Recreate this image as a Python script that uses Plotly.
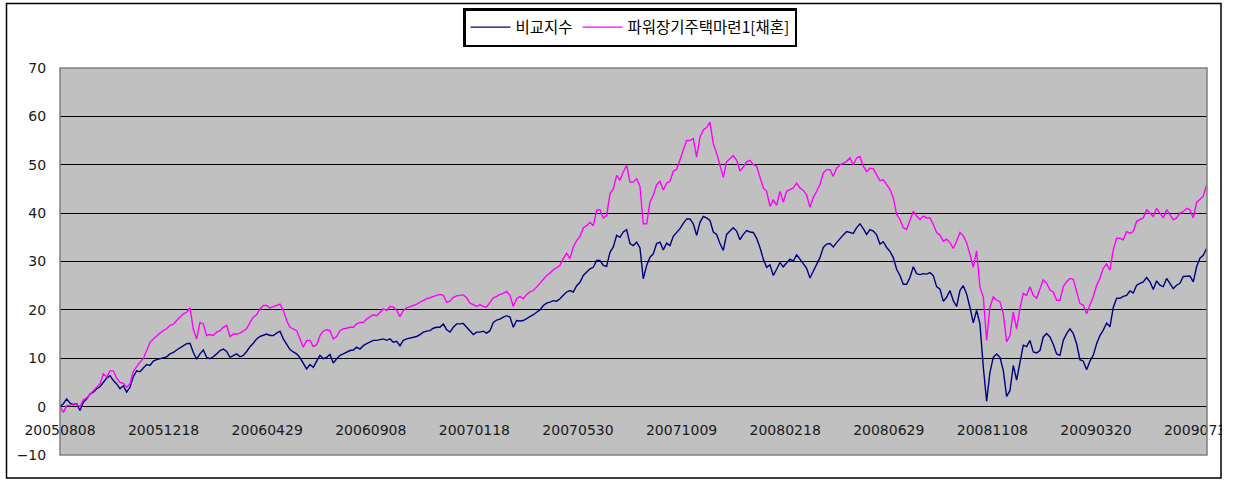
import pandas as pd
import plotly.graph_objects as go

# ---- data ----
series_names = ["비교지수", "파워장기주택마련1[채혼]"]
start_date = "2005-08-08"
end_date = "2009-08-08"

tick_labels = ["20050808", "20051218", "20060429", "20060908", "20070118", "20070530",
               "20071009", "20080218", "20080629", "20081108", "20090320", "20090730"]

benchmark = [
    0.0,
    0.6, 1.6, 0.7, 0.4, 0.6, -0.8, 0.9, 1.6, 2.6, 3.0,
    3.7, 4.1, 5.0, 5.9, 6.4, 5.4, 4.7, 3.7, 4.3, 3.0,
    4.0, 6.2, 7.4, 7.2, 8.0, 8.7, 8.5, 9.4, 9.7, 9.9,
    10.1, 10.3, 10.9, 11.2, 11.7, 12.1, 12.6, 13.0, 13.1, 11.2,
    9.8, 10.9, 11.7, 10.2, 9.9, 10.3, 10.9, 11.6, 11.9, 11.4,
    10.2, 10.6, 10.9, 10.3, 10.6, 11.4, 12.4, 13.1, 14.0, 14.5,
    14.7, 15.0, 14.7, 14.7, 15.2, 15.6, 14.0, 13.0, 11.8,
    11.3, 10.9, 10.1, 8.8, 7.8, 8.7, 8.1, 9.4, 10.6, 9.9,
    10.2, 10.8, 9.0, 9.9, 10.6, 10.9, 11.2, 11.6, 11.7, 12.3,
    11.9, 12.6, 13.0, 13.3, 13.7, 13.7, 13.8, 14.0, 13.7, 14.0,
    13.3, 13.5, 12.6, 13.7, 14.0, 14.2, 14.3, 14.5, 14.9, 15.4,
    15.6, 15.7, 16.2, 16.4, 16.4, 17.1, 15.9, 15.4, 16.4, 17.1,
    17.1, 17.2, 16.4, 15.7, 14.9, 15.4, 15.4, 15.6, 15.2, 15.7,
    17.4, 17.9, 18.1, 18.5, 18.8, 18.5, 16.4, 17.8, 17.7,
    17.8, 18.2, 18.5, 19.0, 19.5, 20.0, 20.9, 21.4, 21.6, 21.9,
    21.8, 22.3, 23.0, 23.7, 24.0, 23.7, 25.0, 25.7, 27.1, 27.8,
    28.5, 28.8, 30.2, 30.2, 29.2, 29.0, 31.9, 33.0, 35.4, 35.0,
    36.1, 36.6, 33.7, 33.3, 34.0, 32.8, 26.4, 29.2, 30.9, 31.6,
    33.7, 34.0, 32.4, 33.8, 33.3, 35.2, 35.9, 36.8, 37.9, 38.8,
    38.8, 37.8, 35.4, 38.1, 39.3, 39.0, 38.5, 36.1, 35.6, 33.7,
    32.3, 35.6, 36.3, 37.0, 36.3, 34.5, 35.6, 36.4, 36.1,
    36.0, 34.8, 32.9, 30.5, 28.8, 29.3, 27.1, 28.4, 29.8, 28.9,
    29.8, 30.5, 30.1, 31.4, 30.5, 29.5, 28.6, 26.6, 28.1, 29.5,
    30.8, 32.9, 33.6, 33.7, 33.0, 33.9, 34.8, 35.5, 36.2, 36.0,
    35.8, 37.0, 37.8, 36.8, 35.6, 36.6, 36.3, 35.5, 33.6, 34.1,
    32.9, 32.1, 30.8, 28.4, 27.1, 25.3, 25.3, 26.7, 28.9, 27.5,
    27.3, 27.5, 27.4, 27.7, 27.1, 24.8, 24.3, 21.8, 22.6, 24.0,
    21.9, 20.7, 24.0, 25.0, 23.3, 20.5, 17.3, 19.9, 17.1,
    8.2, 1.1, 7.1, 10.2, 10.9, 10.2, 7.5, 2.1, 3.3, 8.5,
    5.5, 8.9, 12.7, 12.4, 13.7, 11.3, 11.1, 11.6, 14.4, 15.1,
    14.4, 12.9, 10.9, 10.6, 13.7, 15.1, 16.1, 15.1, 13.0, 9.7,
    9.4, 7.6, 9.4, 10.6, 13.0, 14.7, 15.8, 17.3, 16.5, 20.5,
    22.4, 22.4, 22.8, 23.0, 23.9, 23.5, 25.1, 25.5, 25.8, 26.7,
    25.8, 24.2, 26.0, 25.1, 24.8, 26.5, 25.5, 24.4, 25.1, 25.5,
    26.9, 26.9, 27.0, 25.8, 28.9, 30.7, 31.3, 32.7,
]

fund = [
    0.0,
    -1.2, 0.2, 0.2, 0.6, 0.4, 0.0, 1.4, 1.8, 2.6, 3.3,
    4.0, 4.7, 6.8, 6.1, 7.4, 7.4, 5.9, 5.0, 4.8, 4.0,
    4.7, 7.3, 8.3, 9.2, 9.9, 11.6, 13.3, 14.0, 14.7, 15.2,
    15.7, 16.1, 16.8, 17.0, 17.8, 18.5, 19.2, 19.5, 20.4, 16.0,
    14.0, 17.4, 17.1, 14.7, 14.9, 14.7, 15.4, 15.7, 16.4, 16.8,
    14.5, 15.0, 15.0, 15.2, 15.6, 16.1, 17.4, 18.5, 19.0, 20.2,
    20.9, 20.9, 20.4, 20.7, 20.9, 21.2, 19.9, 17.8, 16.4,
    16.1, 15.7, 14.0, 12.3, 13.7, 13.7, 12.4, 12.8, 14.7, 15.6,
    15.9, 15.7, 14.0, 14.5, 15.7, 16.1, 16.2, 16.4, 16.4, 17.1,
    17.4, 17.4, 18.1, 18.6, 19.0, 18.8, 19.5, 20.2, 19.9, 20.7,
    20.6, 19.9, 18.6, 19.9, 20.4, 20.6, 20.9, 21.2, 21.6, 21.9,
    22.3, 22.5, 22.8, 23.0, 23.2, 23.0, 21.6, 21.8, 22.6, 22.9,
    23.0, 23.1, 22.5, 21.4, 21.1, 20.7, 21.1, 20.7, 20.6, 21.6,
    22.5, 22.8, 23.2, 23.4, 23.8, 23.0, 20.7, 22.3, 22.8,
    22.3, 23.2, 23.7, 24.0, 24.7, 25.5, 26.4, 27.1, 27.6, 28.3,
    28.7, 29.2, 30.6, 31.7, 30.6, 33.0, 34.3, 35.2, 37.0, 37.4,
    38.1, 37.4, 40.6, 40.7, 39.0, 39.5, 44.0, 45.0, 47.8, 46.8,
    48.5, 49.9, 46.4, 46.4, 47.1, 45.5, 37.8, 37.8, 42.3, 43.7,
    45.9, 46.6, 44.8, 46.2, 46.6, 48.7, 49.0, 50.9, 53.1, 55.0,
    55.0, 55.4, 51.6, 55.7, 57.2, 57.7, 58.8, 54.3, 52.4, 49.9,
    47.4, 50.6, 51.2, 51.9, 50.9, 48.7, 49.5, 50.6, 50.9,
    50.0, 49.7, 47.3, 45.2, 44.5, 41.4, 42.8, 41.6, 44.5, 42.3,
    44.5, 44.9, 45.2, 46.2, 45.2, 44.7, 43.8, 41.2, 43.2, 44.5,
    45.9, 48.3, 49.0, 49.0, 47.6, 49.3, 50.0, 50.3, 50.7, 51.4,
    50.0, 51.4, 51.7, 49.7, 48.6, 49.3, 49.2, 47.9, 46.7, 46.9,
    45.9, 44.9, 43.2, 39.7, 38.7, 37.0, 36.6, 38.4, 40.4, 39.4,
    38.7, 39.4, 39.0, 39.0, 37.7, 36.0, 35.5, 34.2, 34.6, 33.9,
    32.7, 34.2, 36.0, 35.3, 33.9, 31.5, 28.8, 32.2, 24.7,
    22.7, 13.7, 20.6, 22.7, 22.0, 21.7, 19.2, 13.4, 14.7, 19.6,
    16.1, 20.3, 23.4, 23.0, 24.8, 23.0, 22.4, 24.1, 26.2, 25.5,
    24.1, 23.7, 22.0, 22.0, 24.8, 25.8, 26.5, 26.3, 23.7, 21.3,
    21.0, 19.2, 21.0, 22.7, 25.1, 26.5, 28.6, 29.5, 28.2, 32.4,
    34.8, 34.8, 34.5, 36.2, 35.8, 36.2, 38.3, 38.6, 39.0, 40.7,
    40.0, 39.3, 41.0, 40.0, 39.0, 40.7, 39.7, 38.6, 39.0, 40.0,
    40.3, 41.0, 40.7, 39.0, 42.2, 42.9, 43.5, 45.8,
]

# ---- layout constants (pixels) ----
W, H = 1233, 482
PL, PR, PT, PB = 60, 1207, 68, 455  # plot area edges
pw, ph = PR - PL, PB - PT


def px(x):
    return (x - PL) / pw


def py(y):
    return (PB - y) / ph


dates = pd.date_range(start_date, end_date, periods=len(benchmark))
tick_vals = pd.to_datetime(tick_labels, format="%Y%m%d")

fig = go.Figure()
fig.add_trace(go.Scatter(x=dates, y=benchmark, name=series_names[0], mode="lines",
                         line=dict(color="#000080", width=1.4)))
fig.add_trace(go.Scatter(x=dates, y=fund, name=series_names[1], mode="lines",
                         line=dict(color="#FF00FF", width=1.4)))

tick_font = dict(family="DejaVu Sans, sans-serif", size=14, color="#1a1a1a")

fig.update_layout(
    width=W, height=H,
    margin=dict(l=PL, r=W - PR, t=PT, b=H - PB, pad=0, autoexpand=False),
    paper_bgcolor="#FFFFFF",
    plot_bgcolor="#C0C0C0",
    showlegend=True,
    legend=dict(
        orientation="h", x=px(630), xanchor="center", y=py(8), yanchor="top",
        bgcolor="#FFFFFF", bordercolor="#000000", borderwidth=2.5,
        font=dict(family="Noto Sans CJK KR, sans-serif", size=15.5, color="#000000"),
        itemwidth=40,
    ),
    xaxis=dict(
        type="date", automargin=False,
        range=[pd.Timestamp(start_date), pd.Timestamp("2009-08-08 12:00")],
        tickvals=tick_vals, ticktext=tick_labels,
        showgrid=False, zeroline=False, showline=False,
        anchor="free", position=py(406),
        ticks="outside", ticklen=11, tickcolor="rgba(0,0,0,0)",
        tickfont=tick_font, ticklabeloverflow="allow",
    ),
    yaxis=dict(
        range=[-10, 70], dtick=10, tick0=0, automargin=False,
        showgrid=True, gridcolor="#000000", gridwidth=1,
        zeroline=False, showline=False,
        ticks="outside", ticklen=10, tickcolor="rgba(0,0,0,0)",
        tickfont=tick_font,
    ),
    shapes=[
        # plot-area border
        dict(type="rect", xref="paper", yref="paper", x0=0, x1=1, y0=0, y1=1,
             line=dict(color="#808080", width=1.5), layer="above"),
        # clip the label overflowing past the chart frame
        dict(type="rect", xref="paper", yref="paper", x0=px(1222), x1=px(1233),
             y0=py(448), y1=py(412), fillcolor="#FFFFFF", line=dict(width=0), layer="above"),
        # chart frame
        dict(type="rect", xref="paper", yref="paper", x0=px(6.5), x1=px(1221),
             y0=py(478), y1=py(3.5), line=dict(color="#000000", width=1.5), layer="above"),
    ],
)

fig.write_html("out.html", config={"displayModeBar": False},
               post_script="document.body.style.margin='0px';"
                           "document.body.style.overflow='hidden';"
                           "document.documentElement.style.overflow='hidden';")
